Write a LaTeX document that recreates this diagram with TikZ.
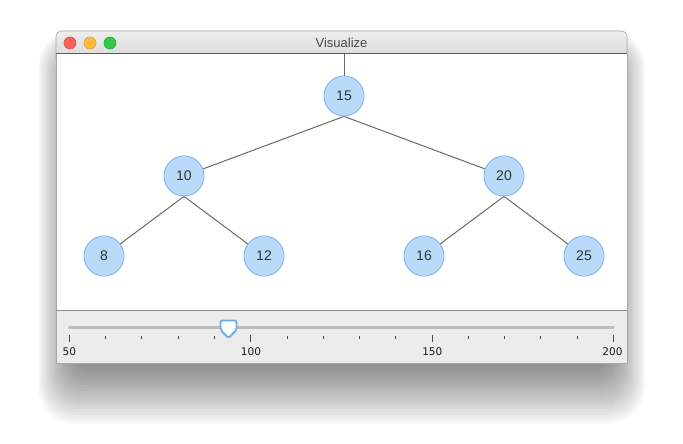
\documentclass[tikz,border=0pt]{standalone}
\usepackage{fontspec}
\setmainfont{Liberation Sans}
\newfontfamily\tickfont{DejaVu Sans}
\usetikzlibrary{calc}
\definecolor{nodefill}{RGB}{184,218,248}
\definecolor{nodeline}{RGB}{126,178,236}
\definecolor{edgecol}{RGB}{107,107,107}
\definecolor{txtcol}{RGB}{51,51,51}
\definecolor{titletop}{RGB}{238,238,238}
\definecolor{titlebot}{RGB}{216,216,216}
\definecolor{panel}{RGB}{236,236,236}
\definecolor{frame}{RGB}{168,168,168}
\definecolor{trackcol}{RGB}{188,188,188}
\definecolor{thumbcol}{RGB}{111,168,232}
\definecolor{tlred}{RGB}{252,96,91}
\definecolor{tlredb}{RGB}{222,74,69}
\definecolor{tlyel}{RGB}{253,188,64}
\definecolor{tlyelb}{RGB}{222,162,54}
\definecolor{tlgrn}{RGB}{52,200,74}
\definecolor{tlgrnb}{RGB}{39,170,53}
\pgfdeclarelayer{win}
\pgfdeclarelayer{edges}
\pgfsetlayers{win,edges,main}
\tikzset{
  treenode/.style={circle, minimum size=40pt, inner sep=0pt, fill=nodefill, draw=nodeline, line width=0.8pt, text=txtcol, font=\fontsize{14}{16}\selectfont},
  treeedge/.style={draw=edgecol, line width=1pt},
  light/.style={circle, minimum size=12pt, inner sep=0pt, line width=0.6pt},
  ticklabel/.style={inner sep=0pt, text=black!90, font=\tickfont\fontsize{10.5}{12}\selectfont},
}
\begin{document}
\begin{tikzpicture}[x=1pt,y=-1pt]
\useasboundingbox (0,0) rectangle (683,444);
\begin{pgfonlayer}{win}
  % shadow
  \foreach \k in {0,...,24}{
    \pgfmathsetmacro{\t}{\k/24}
    \fill[black,opacity=0.026,rounded corners=8+30*\t] (83-45*\t,70-40*\t) rectangle (600+45*\t,352+72*\t);
  }
  % title bar
  \shade[top color=titletop,bottom color=titlebot,rounded corners=5pt] (56,60) -- (56,31) -- (627,31) -- (627,60) -- cycle;
  \draw[frame,line width=0.6pt,rounded corners=5pt] (56,60) -- (56,31) -- (627,31) -- (627,60);
  % content
  \fill[white] (56,54) rectangle (627,310);
  \fill[panel] (56,310.5) rectangle (627,363);
  \draw[frame,line width=0.8pt] (56,54) -- (56,363) -- (627,363) -- (627,54);
  \draw[black!65,line width=1pt] (56,54) -- (627,54);
  \draw[black!45,line width=0.8pt] (56,310.5) -- (627,310.5);
  % slider
  \draw[trackcol,line width=3pt,line cap=round] (69.3,327) -- (613.3,327);
  \foreach \i in {0,...,15}{
    \pgfmathsetmacro{\xx}{69.3+\i*36.267}
    \pgfmathtruncatemacro{\m}{mod(\i,5)}
    \ifnum\m=0
      \draw[black!70,line width=0.8pt] (\xx,335) -- (\xx,342);
    \else
      \draw[black!70,line width=0.8pt] (\xx,335.5) -- (\xx,339);
    \fi
  }
  \draw[fill=white,draw=thumbcol,line width=1.8pt,rounded corners=2pt] (220.5,320.5) -- (236.5,320.5) -- (236.5,330) -- (228.5,338) -- (220.5,330) -- cycle;
\end{pgfonlayer}
% traffic lights and title
\node[light,fill=tlred,draw=tlredb] (red) at (70,43) {};
\node[light,fill=tlyel,draw=tlyelb] (yellow) at (90,43) {};
\node[light,fill=tlgrn,draw=tlgrnb] (green) at (110,43) {};
\node[text=black!72,font=\fontsize{13}{15}\selectfont] (title) at (341.5,43) {Visualize};
% tick labels
\node[ticklabel] (l50) at (69.3,351.5) {50};
\node[ticklabel] (l100) at (251,351.5) {100};
\node[ticklabel] (l150) at (432.3,351.5) {150};
\node[ticklabel] (l200) at (612.5,351.5) {200};
% tree
\coordinate (top) at (344,54.5);
\node[treenode] (n15) at (344,96) {15};
\node[treenode] (n10) at (184,176) {10};
\node[treenode] (n20) at (504,176) {20};
\node[treenode] (n8) at (104,256) {8};
\node[treenode] (n12) at (264,256) {12};
\node[treenode] (n16) at (424,256) {16};
\node[treenode] (n25) at (584,256) {25};
\begin{pgfonlayer}{edges}
  \draw[treeedge] (top) -- (n15.center);
  \draw[treeedge] (n15.south) -- (n10.center);
  \draw[treeedge] (n15.south) -- (n20.center);
  \draw[treeedge] (n10.south) -- (n8.center);
  \draw[treeedge] (n10.south) -- (n12.center);
  \draw[treeedge] (n20.south) -- (n16.center);
  \draw[treeedge] (n20.south) -- (n25.center);
\end{pgfonlayer}
\end{tikzpicture}
\end{document}
